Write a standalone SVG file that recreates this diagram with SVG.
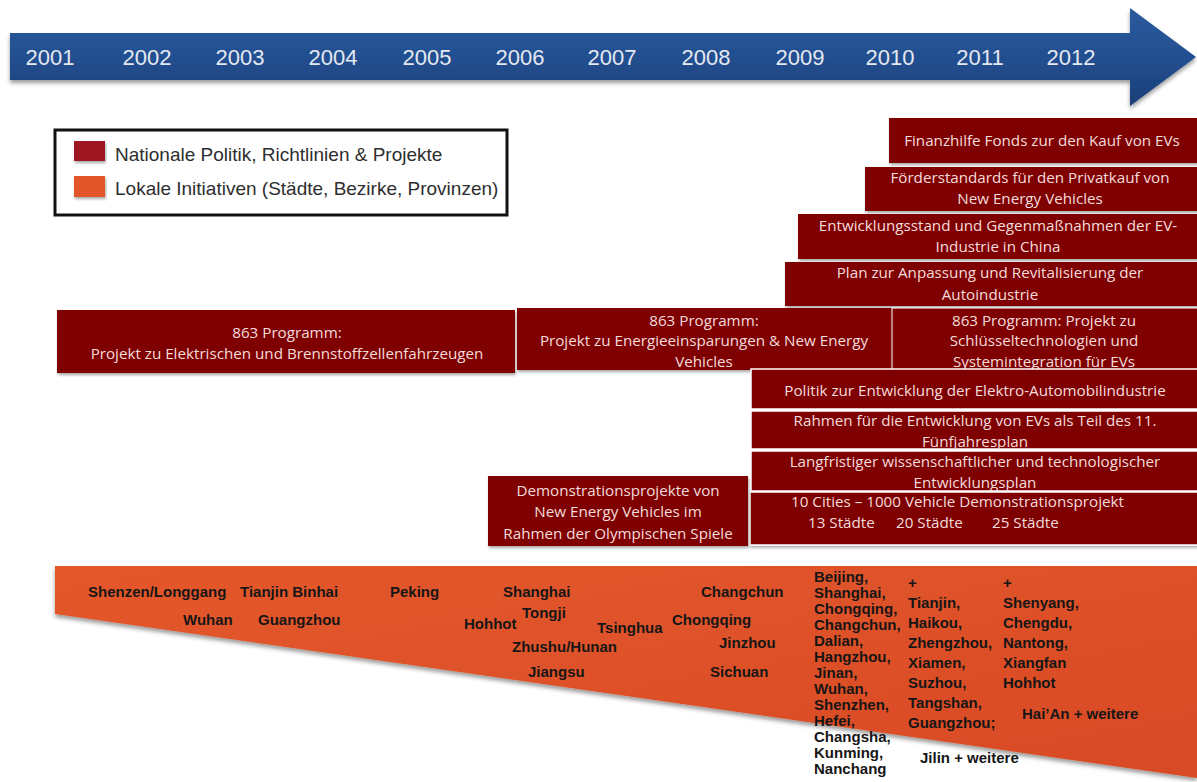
<svg xmlns="http://www.w3.org/2000/svg" width="1197" height="782" viewBox="0 0 1197 782">
<defs>
<linearGradient id="gBlue" x1="0" y1="0" x2="0" y2="1">
<stop offset="0" stop-color="#2b5a9e"/>
<stop offset="0.5" stop-color="#234f90"/>
<stop offset="1" stop-color="#1a3e78"/>
</linearGradient>
<linearGradient id="gOrange" x1="0" y1="0" x2="1" y2="1">
<stop offset="0" stop-color="#e4582c"/>
<stop offset="1" stop-color="#d84a25"/>
</linearGradient>
<filter id="sh" x="-5%" y="-20%" width="110%" height="150%">
<feDropShadow dx="1" dy="2" stdDeviation="1.5" flood-color="#000" flood-opacity="0.35"/>
</filter>
<filter id="shb" x="-5%" y="-20%" width="110%" height="160%">
<feDropShadow dx="0" dy="3" stdDeviation="2" flood-color="#000" flood-opacity="0.4"/>
</filter>
</defs>
<style>
.yr{font-family:"Liberation Sans",Arial,sans-serif;font-size:22px;fill:#e4e8f1;text-anchor:middle}
.lg{font-family:"Liberation Sans",Arial,sans-serif;font-size:19px;fill:#2e2e2e}
.box{fill:#7f0000}
.bw{fill:#7f0000;stroke:#ffffff;stroke-width:1.5}
.bt{font-family:"Open Sans","Noto Sans",sans-serif;font-size:15.2px;fill:#f4dcdc;text-anchor:middle}
.bl{font-family:"Open Sans","Noto Sans",sans-serif;font-size:15.2px;fill:#f4dcdc}
.ct{font-family:"Liberation Sans",Arial,sans-serif;font-size:15px;font-weight:bold;fill:#161616}
</style>

<g id="timeline">
<polygon points="10,33 1130,33 1130,8 1196,57 1130,106 1130,80 10,80" fill="url(#gBlue)" filter="url(#shb)"/>
<text class="yr" x="50" y="65">2001</text>
<text class="yr" x="147" y="65">2002</text>
<text class="yr" x="240" y="65">2003</text>
<text class="yr" x="333" y="65">2004</text>
<text class="yr" x="427" y="65">2005</text>
<text class="yr" x="520" y="65">2006</text>
<text class="yr" x="612" y="65">2007</text>
<text class="yr" x="706" y="65">2008</text>
<text class="yr" x="800" y="65">2009</text>
<text class="yr" x="890" y="65">2010</text>
<text class="yr" x="980" y="65">2011</text>
<text class="yr" x="1071" y="65">2012</text>
</g>

<g id="legend">
<rect x="55" y="130" width="452" height="85" fill="#ffffff" stroke="#111111" stroke-width="3"/>
<rect x="74" y="141" width="31" height="20" fill="#9d1220" filter="url(#sh)"/>
<rect x="74" y="176" width="31" height="21" fill="#e2572b" filter="url(#sh)"/>
<text class="lg" x="115" y="161">Nationale Politik, Richtlinien &amp; Projekte</text>
<text class="lg" x="115" y="195">Lokale Initiativen (Städte, Bezirke, Provinzen)</text>
</g>

<g id="local">
<polygon points="55,566 1197,566 1197,778 55,614" fill="url(#gOrange)" filter="url(#shb)"/>
<text class="ct" x="88" y="597">Shenzen/Longgang</text>
<text class="ct" x="240" y="597">Tianjin Binhai</text>
<text class="ct" x="183" y="625">Wuhan</text>
<text class="ct" x="258" y="625">Guangzhou</text>
<text class="ct" x="390" y="597">Peking</text>
<text class="ct" x="503" y="597">Shanghai</text>
<text class="ct" x="522" y="618">Tongji</text>
<text class="ct" x="464" y="629">Hohhot</text>
<text class="ct" x="597" y="633">Tsinghua</text>
<text class="ct" x="512" y="652">Zhushu/Hunan</text>
<text class="ct" x="528" y="677">Jiangsu</text>
<text class="ct" x="701" y="597">Changchun</text>
<text class="ct" x="672" y="625">Chongqing</text>
<text class="ct" x="719" y="648">Jinzhou</text>
<text class="ct" x="710" y="677">Sichuan</text>
<text class="ct" x="814" y="582">Beijing,<tspan x="814" dy="16">Shanghai,</tspan><tspan x="814" dy="16">Chongqing,</tspan><tspan x="814" dy="16">Changchun,</tspan><tspan x="814" dy="16">Dalian,</tspan><tspan x="814" dy="16">Hangzhou,</tspan><tspan x="814" dy="16">Jinan,</tspan><tspan x="814" dy="16">Wuhan,</tspan><tspan x="814" dy="16">Shenzhen,</tspan><tspan x="814" dy="16">Hefei,</tspan><tspan x="814" dy="16">Changsha,</tspan><tspan x="814" dy="16">Kunming,</tspan><tspan x="814" dy="16">Nanchang</tspan></text>
<text class="ct" x="908" y="588">+<tspan x="908" dy="20">Tianjin,</tspan><tspan x="908" dy="20">Haikou,</tspan><tspan x="908" dy="20">Zhengzhou,</tspan><tspan x="908" dy="20">Xiamen,</tspan><tspan x="908" dy="20">Suzhou,</tspan><tspan x="908" dy="20">Tangshan,</tspan><tspan x="908" dy="20">Guangzhou;</tspan></text>
<text class="ct" x="1003" y="588">+<tspan x="1003" dy="20">Shenyang,</tspan><tspan x="1003" dy="20">Chengdu,</tspan><tspan x="1003" dy="20">Nantong,</tspan><tspan x="1003" dy="20">Xiangfan</tspan><tspan x="1003" dy="20">Hohhot</tspan></text>
<text class="ct" x="1022" y="719">Hai’An + weitere</text>
<text class="ct" x="920" y="763">Jilin + weitere</text>
</g>

<g id="n-finanzhilfe">
<rect class="box" x="889" y="118" width="310" height="45" filter="url(#sh)"/>
<text class="bt" x="1042" y="146">Finanzhilfe Fonds zur den Kauf von EVs</text>
</g>
<g id="n-foerderstandards">
<rect class="box" x="865" y="167" width="333" height="44" filter="url(#sh)"/>
<text class="bt" x="1030" y="183">Förderstandards für den Privatkauf von</text>
<text class="bt" x="1030" y="204">New Energy Vehicles</text>
</g>
<g id="n-entwicklungsstand">
<rect class="box" x="798" y="214" width="400" height="45" filter="url(#sh)"/>
<text class="bt" x="998" y="231">Entwicklungsstand und Gegenmaßnahmen der EV-</text>
<text class="bt" x="998" y="252">Industrie in China</text>
</g>
<g id="n-plan">
<rect class="box" x="785" y="262" width="413" height="44" filter="url(#sh)"/>
<text class="bt" x="990" y="278">Plan zur Anpassung und Revitalisierung der</text>
<text class="bt" x="990" y="300">Autoindustrie</text>
</g>
<g id="n-863-a">
<rect class="box" x="57" y="310" width="458" height="63" filter="url(#sh)"/>
<text class="bt" x="287" y="338">863 Programm:</text>
<text class="bt" x="287" y="359">Projekt zu Elektrischen und Brennstoffzellenfahrzeugen</text>
</g>
<g id="n-863-b">
<rect class="box" x="517" y="308" width="375" height="62" filter="url(#sh)"/>
<text class="bt" x="704" y="326">863 Programm:</text>
<text class="bt" x="704" y="346">Projekt zu Energieeinsparungen &amp; New Energy</text>
<text class="bt" x="704" y="367">Vehicles</text>
</g>
<g id="n-863-c">
<rect class="box" x="892" y="308" width="306" height="62" stroke="#ffffff" stroke-width="1"/>
<text class="bt" x="1044" y="326">863 Programm: Projekt zu</text>
<text class="bt" x="1044" y="346">Schlüsseltechnologien und</text>
<text class="bt" x="1044" y="367">Systemintegration für EVs</text>
</g>
<g id="n-politik">
<rect class="bw" x="751" y="369" width="448" height="40"/>
<text class="bt" x="975" y="396">Politik zur Entwicklung der Elektro-Automobilindustrie</text>
</g>
<g id="n-rahmen">
<rect class="bw" x="751" y="411" width="448" height="38"/>
<text class="bt" x="975" y="426">Rahmen für die Entwicklung von EVs als Teil des 11.</text>
<text class="bt" x="975" y="447">Fünfjahresplan</text>
</g>
<g id="n-langfristig">
<rect class="bw" x="751" y="451" width="448" height="40"/>
<text class="bt" x="975" y="467">Langfristiger wissenschaftlicher und technologischer</text>
<text class="bt" x="975" y="488">Entwicklungsplan</text>
</g>
<g id="n-10cities">
<rect class="bw" x="750" y="492" width="449" height="53" filter="url(#sh)"/>
<text class="bl" x="791" y="507">10 Cities – 1000 Vehicle Demonstrationsprojekt</text>
<text class="bl" y="528"><tspan x="808">13 Städte</tspan><tspan x="896">20 Städte</tspan><tspan x="992">25 Städte</tspan></text>
</g>
<g id="n-olympia">
<rect class="box" x="488" y="476" width="260" height="70" filter="url(#sh)"/>
<text class="bt" x="618" y="496">Demonstrationsprojekte von</text>
<text class="bt" x="618" y="517">New Energy Vehicles im</text>
<text class="bt" x="618" y="539">Rahmen der Olympischen Spiele</text>
</g>
<g id="connectors"/>
</svg>
